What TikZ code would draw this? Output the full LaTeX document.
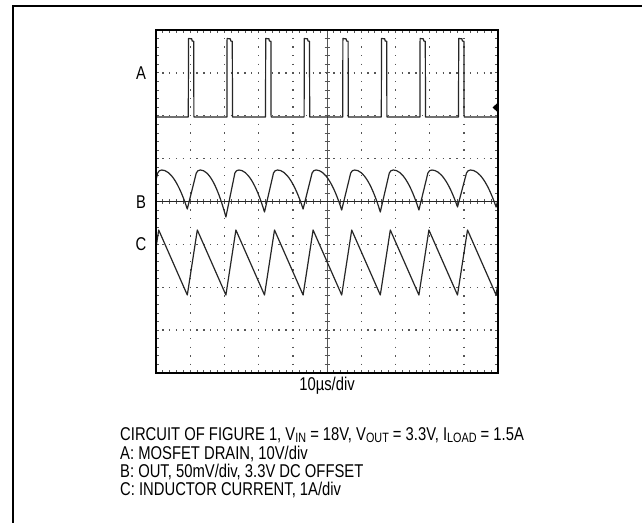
\documentclass[tikz,border=0pt]{standalone}
\usepackage{fontspec}
\setmainfont{Liberation Sans}[FakeStretch=0.8]
\definecolor{tracecol}{HTML}{262626}
\definecolor{gridcol}{HTML}{555555}
\newcommand\sbs[1]{\raisebox{-2.5pt}{\fontsize{13.5}{14}\selectfont #1}}
\tikzset{
  frameline/.style={line width=2pt, black},
  screen/.style={line width=2pt, black},
  gdot/.style={line width=1.4pt, gridcol},
  tickmark/.style={line width=0.8pt, gridcol},
  trace/.style={line width=1.2pt, tracecol, line join=round},
  lbl/.style={font=\fontsize{18.5}{18}\selectfont, inner sep=0pt, anchor=base},
  captxt/.style={font=\fontsize{18.5}{18}\selectfont, inner sep=0pt, anchor=base west}
}
\begin{document}
\begin{tikzpicture}[x=1pt,y=-1pt]
\useasboundingbox (0,0) rectangle (642,522);
\fill[white] (0,0) rectangle (642,522);
% outer frame
\draw[frameline] (12.5,530) -- (12.5,5.5) -- (650,5.5);
% graticule dotted lines
\foreach \i in {1,2,3,4,6,7,8,9}
  \draw[gdot, dash pattern=on 1.4pt off 7.175pt] ({156+\i*34.2},29.3) -- ({156+\i*34.2},373.7);
\foreach \j in {1,2,3,5,6,7}
  \draw[gdot, dash pattern=on 1.4pt off 5.44pt] (155.3,{30+\j*42.875}) -- (498.7,{30+\j*42.875});
% centre axes with ticks
\draw[line width=0.6pt, gridcol] (327,30) -- (327,373);
\foreach \k in {1,...,39}
  \draw[tickmark] (324.5,{30+\k*8.575}) -- (329.5,{30+\k*8.575});
\foreach \k in {1,...,49}
  \draw[tickmark] ({156+\k*6.84},199) -- ({156+\k*6.84},204);
% border ticks
\foreach \k in {1,...,49} {
  \draw[tickmark] ({156+\k*6.84},30) -- ({156+\k*6.84},33);
  \draw[tickmark] ({156+\k*6.84},373) -- ({156+\k*6.84},370);
}
\foreach \k in {1,...,39} {
  \draw[tickmark] (156,{30+\k*8.575}) -- (159,{30+\k*8.575});
  \draw[tickmark] (498,{30+\k*8.575}) -- (495,{30+\k*8.575});
}
% traces
\begin{scope}
\clip (156,30) rectangle (498,373);
% centre line of B
\draw[line width=1.1pt, tracecol] (156,201.5) -- (498,201.5);
% trace A
\draw[trace] (150,117)
  \foreach \n [evaluate=\n as \r using {188.3+\n*38.6}] in {0,...,7} {
    -- (\r,117) -- (\r+0.2,38.5) -- (\r+3.4,38.8) -- (\r+3.9,41) -- (\r+5.4,41.3) -- (\r+5.6,117)
  } -- (498,117);
% trace B
\draw[trace] (148.7,209)
  \foreach \n/\yb [evaluate=\n as \m using {187.3+\n*38.6}] in {-1/209,0/217,1/212,2/209,3/210,4/212,5/210,6/207,7/207,8/208} {
    -- (\m+9,173) .. controls (\m+10.5,170.5) .. (\m+13,170)
    .. controls (\m+21.5,170) and (\m+30.07,{170+(\yb-170)/3}) .. (\m+38.6,\yb)
  };
% trace C
\draw[trace] (148.7,295)
  \foreach \n [evaluate=\n as \m using {187.3+\n*38.6}] in {-1,...,8} {
    -- (\m+10,230) -- (\m+38.6,295)
  };
\end{scope}
% ground marker of A
\fill[black] (498,102.5) -- (492.5,107.5) -- (498,112.5) -- cycle;
% screen border
\draw[screen] (156,30) rectangle (498,373);
% labels
\node[lbl] (la) at (141,79.5) {A};
\node[lbl] (lb) at (141,208) {B};
\node[lbl] (lc) at (141,250.5) {C};
\node[lbl] (xs) at (327,390.5) {10µs/div};
\node[captxt] (c1) at (120,440) {CIRCUIT OF FIGURE 1, V\sbs{IN} = 18V, V\sbs{OUT} = 3.3V, I\sbs{LOAD} = 1.5A};
\node[captxt] (c2) at (120,459.5) {A: MOSFET DRAIN, 10V/div};
\node[captxt] (c3) at (120,477.5) {B: OUT, 50mV/div, 3.3V DC OFFSET};
\node[captxt] (c4) at (120,495.5) {C: INDUCTOR CURRENT, 1A/div};
\end{tikzpicture}
\end{document}
